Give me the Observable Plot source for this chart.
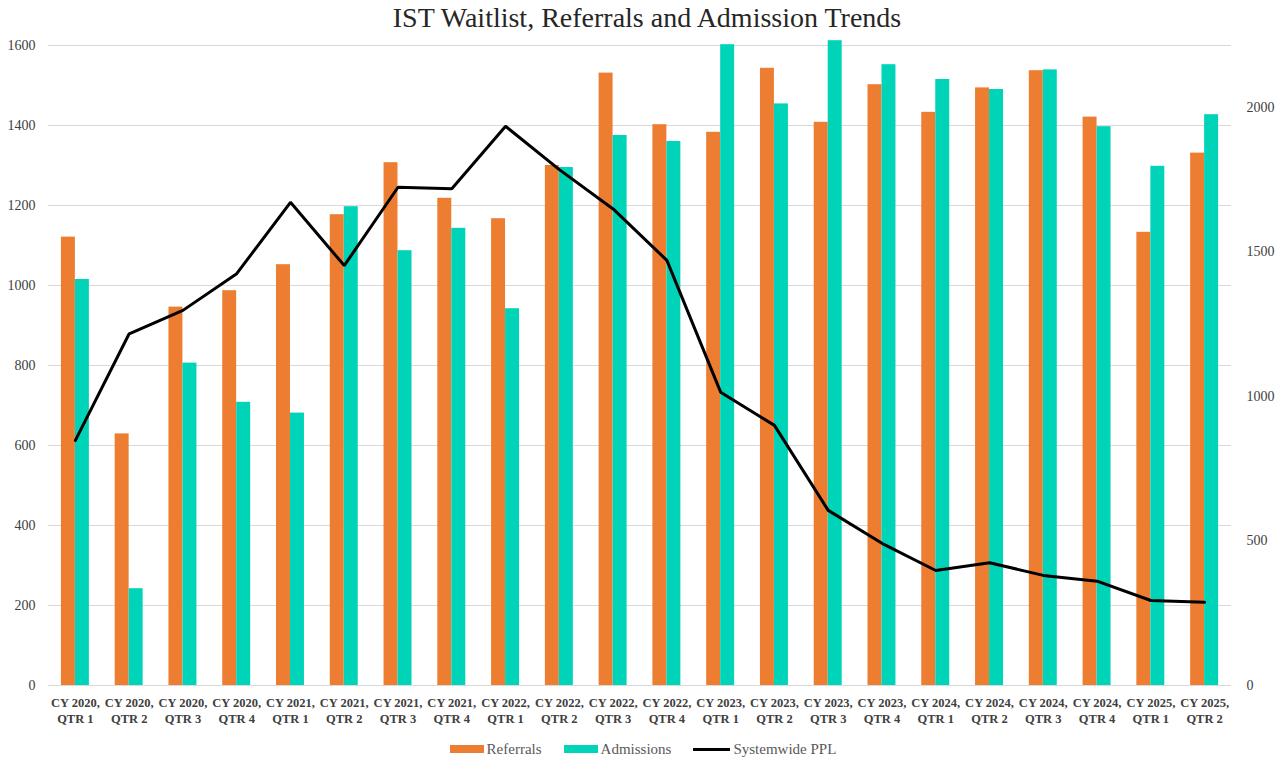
<!DOCTYPE html>
<html>
<head>
<meta charset="utf-8">
<script src="https://cdn.jsdelivr.net/npm/d3@7"></script>
<script src="https://cdn.jsdelivr.net/npm/@observablehq/plot@0.6"></script>
<style>
  html, body { margin: 0; padding: 0; background: #fff; }
  #title { height: 32px; line-height: 36px; text-align: center; font-family: "Liberation Serif", "DejaVu Serif", serif; font-size: 28px; color: #262626; padding-left: 14px; }
  #legend { display: flex; justify-content: center; align-items: center; gap: 22px; font-family: "Liberation Serif", serif; font-size: 15px; color: #595959; height: 36px; margin-top: 6px; padding-left: 6px; }
  .item { display: flex; align-items: center; gap: 3px; }
  .sw { width: 34px; height: 8px; }
  .ln { width: 37px; height: 3px; background: #000; }
</style>
</head>
<body>
<div id="title">IST Waitlist, Referrals and Admission Trends</div>
<div id="chart"></div>
<div id="legend">
  <div class="item"><div class="sw" style="background:#ED7D31"></div><span>Referrals</span></div>
  <div class="item"><div class="sw" style="background:#00D4B8"></div><span>Admissions</span></div>
  <div class="item"><div class="ln"></div><span>Systemwide PPL</span></div>
</div>
<script>
const quarters = [
  "CY 2020,\nQTR 1","CY 2020,\nQTR 2","CY 2020,\nQTR 3","CY 2020,\nQTR 4",
  "CY 2021,\nQTR 1","CY 2021,\nQTR 2","CY 2021,\nQTR 3","CY 2021,\nQTR 4",
  "CY 2022,\nQTR 1","CY 2022,\nQTR 2","CY 2022,\nQTR 3","CY 2022,\nQTR 4",
  "CY 2023,\nQTR 1","CY 2023,\nQTR 2","CY 2023,\nQTR 3","CY 2023,\nQTR 4",
  "CY 2024,\nQTR 1","CY 2024,\nQTR 2","CY 2024,\nQTR 3","CY 2024,\nQTR 4",
  "CY 2025,\nQTR 1","CY 2025,\nQTR 2"
];
const referrals  = [1121, 629, 946, 987, 1052, 1177, 1307, 1218, 1167, 1300, 1531, 1402, 1383, 1543, 1408, 1502, 1433, 1494, 1537, 1421, 1133, 1331];
const admissions = [1015, 242, 806, 708, 681, 1197, 1087, 1143, 942, 1295, 1375, 1360, 1602, 1454, 1612, 1552, 1515, 1490, 1539, 1397, 1298, 1427];
const ppl        = [848, 1217, 1298, 1425, 1672, 1453, 1724, 1719, 1935, 1785, 1649, 1471, 1015, 900, 606, 492, 398, 425, 381, 361, 294, 288];
const leftTicks  = [0, 200, 400, 600, 800, 1000, 1200, 1400, 1600];
const rightTicks = [0, 500, 1000, 1500, 2000];

const k = 0.7225; // right-axis unit -> left-axis unit
const rows = quarters.map((q, i) => ({q, ref: referrals[i], adm: admissions[i], ppl: ppl[i] * k}));

const font = "Liberation Serif, DejaVu Serif, serif";
const chart = Plot.plot({
  width: 1280,
  height: 693,
  marginTop: 13,
  marginBottom: 40,
  marginLeft: 48,
  marginRight: 49,
  style: {fontFamily: font, fontSize: "14px", color: "#404040", background: "#fff"},
  x: {domain: quarters, paddingInner: 0.48, paddingOuter: 0.24, round: false, label: null},
  y: {domain: [0, 1600], label: null},
  marks: [
    Plot.ruleY(leftTicks, {stroke: "#d9d9d9", strokeWidth: 1}),
    Plot.axisY({ticks: leftTicks, tickFormat: d => String(d), tickSize: 0, tickPadding: 13, label: null, fill: "#404040", fontSize: 14}),
    Plot.axisY({anchor: "right", ticks: rightTicks.map(v => v * k), tickFormat: d => String(Math.round(d / k)), tickSize: 0, tickPadding: 15, label: null, textAnchor: "start", fill: "#404040", fontSize: 14}),
    Plot.axisX({tickSize: 0, tickPadding: 10, label: null, fontSize: 12.5, fontWeight: "bold", fill: "#404040", lineHeight: 1.3}),
    Plot.barY(rows, {x: "q", y: "ref", fill: "#ED7D31", insetRight: 14}),
    Plot.barY(rows, {x: "q", y: "adm", fill: "#00D4B8", insetLeft: 14}),
    Plot.line(rows, {x: "q", y: "ppl", stroke: "#000", strokeWidth: 3, strokeLinejoin: "miter"})
  ]
});
document.getElementById("chart").append(chart);
</script>
</body>
</html>
